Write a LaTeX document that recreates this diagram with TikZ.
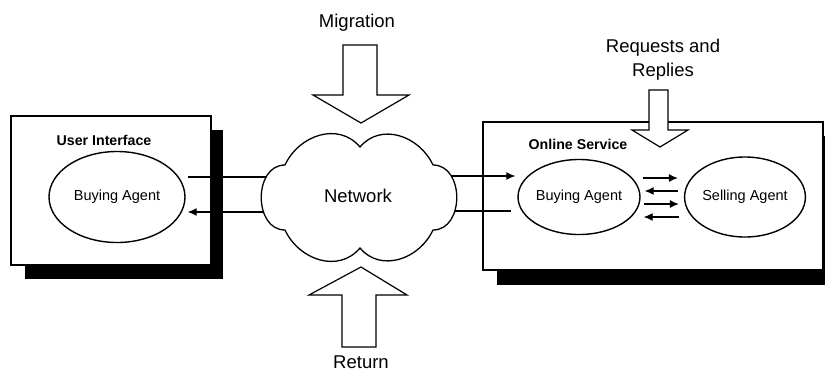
\documentclass[tikz,border=0pt]{standalone}
\usepackage{fontspec}
\setmainfont{Liberation Sans}
\usetikzlibrary{arrows.meta,shapes.geometric}
\tikzset{
  frame/.style={draw=black,line width=1.1pt,fill=white},
  shadowbox/.style={fill=black,draw=none},
  agent/.style={ellipse,draw=black,line width=1.4pt,fill=white,inner sep=0pt,font=\fontsize{14.5}{17}\selectfont},
  blockarrow/.style={draw=black,line width=1.2pt,fill=white,line join=miter},
  conn/.style={line width=1.2pt},
  carrow/.style={line width=1.2pt,-{Latex[length=9pt,width=8pt]}},
  bigtext/.style={font=\fontsize{18.5}{22}\selectfont,inner sep=0pt},
  boldtext/.style={font=\fontsize{14.2}{17}\selectfont\bfseries,inner sep=0pt}
}
\begin{document}
\begin{tikzpicture}[x=1pt,y=1pt]
\useasboundingbox (0,0) rectangle (825,-373);
\clip (0,0) rectangle (825,-373);
% left box
\fill[shadowbox] (25,-130) rectangle (223,-279);
\draw[frame] (11,-116) rectangle (211,-265);
\node[boldtext] (ui) at (104,-140) {User Interface};
\node[agent,minimum width=136pt,minimum height=91pt] (ba1) at (117,-197) {Buying Agent};
% right box
\fill[shadowbox] (497,-136) rectangle (840,-285);
\draw[frame] (483,-122) rectangle (823,-270);
\node[boldtext] (os) at (578,-144) {Online Service};
\node[agent,minimum width=120pt,minimum height=75pt] (ba2) at (579,-197) {Buying Agent};
\node[agent,minimum width=116pt,minimum height=80pt] (sa) at (745,-197) {Selling Agent};
% connectors to/from the cloud (cloud drawn on top)
\coordinate (l1) at (300,-177);
\coordinate (l2) at (300,-212);
\coordinate (r1) at (420,-176);
\coordinate (r2) at (420,-211);
\draw[conn] (ba1.east |- l1) ++(2,0) coordinate (l1s) -- (l1);
\draw[carrow] (l2) -- ([xshift=2pt]ba1.east |- l2);
\draw[carrow] (r1) -- ([xshift=-2pt]ba2.west |- r1);
\draw[conn] (r2) -- ([xshift=-6pt]ba2.west |- r2);
% cloud
\coordinate (cA) at (360,-147);
\coordinate (cB) at (433,-165);
\coordinate (cC) at (433,-230);
\coordinate (cD) at (360,-248);
\coordinate (cE) at (285,-230);
\coordinate (cF) at (285,-165);
\draw[line width=1.3pt,fill=white,line join=miter]
  (cA) to[out=50,in=115,looseness=1.1] (cB)
       to[out=0,in=0,looseness=1.25] (cC)
       to[out=-115,in=-50,looseness=1.1] (cD)
       to[out=-130,in=-65,looseness=1.1] (cE)
       to[out=180,in=180,looseness=1.25] (cF)
       to[out=65,in=130,looseness=1.1] (cA) -- cycle;
\node[bigtext] (net) at (358,-196) {Network};
% agent-to-agent arrows
\draw[carrow] ([xshift=2pt]ba2.east |- 0,-178) -- ([xshift=-6pt]sa.west |- 0,-178);
\draw[carrow] ([xshift=-6pt]sa.west |- 0,-191) -- ([xshift=4pt]ba2.east |- 0,-191);
\draw[carrow] ([xshift=3pt]ba2.east |- 0,-204) -- ([xshift=-5pt]sa.west |- 0,-204);
\draw[carrow] ([xshift=-5pt]sa.west |- 0,-217) -- ([xshift=3pt]ba2.east |- 0,-217);
% block arrows
\node[bigtext] (mig) at (357,-23) {Migration};
\draw[blockarrow] (343,-45) -- (377,-45) -- (377,-95) -- (409,-95) -- (361,-123) -- (313,-95) -- (343,-95) -- cycle;
\draw[blockarrow] (342,-347) -- (376,-347) -- (376,-295) -- (407,-295) -- (361,-267) -- (309,-295) -- (342,-295) -- cycle;
\node[bigtext] (ret) at (361,-362) {Return};
\node[bigtext,align=center] (rr) at (663,-60) {Requests and\\[2pt]Replies};
\draw[blockarrow] (649,-90) -- (668,-90) -- (668,-130) -- (688,-130) -- (660,-147) -- (632,-130) -- (649,-130) -- cycle;
\end{tikzpicture}
\end{document}
